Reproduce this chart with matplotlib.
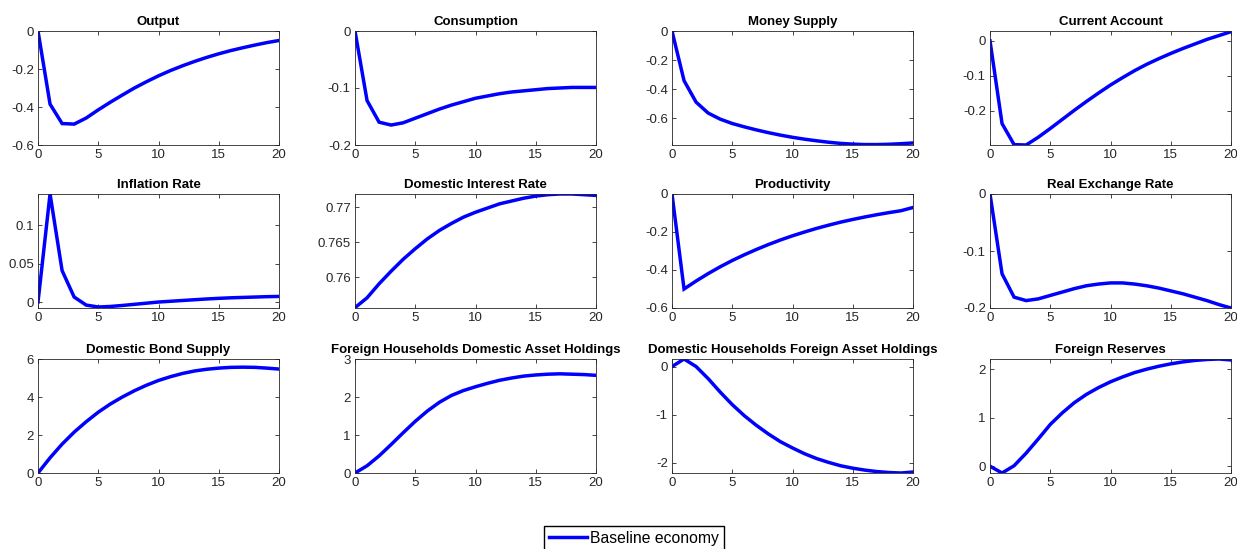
import numpy as np
import matplotlib
matplotlib.use("Agg")
import matplotlib.pyplot as plt

plt.rcParams['font.family'] = ['Liberation Sans', 'DejaVu Sans']
plt.rcParams['axes.unicode_minus'] = False

# horizon (quarters)
periods = list(range(21))

titles = [
    "Output", "Consumption", "Money Supply", "Current Account",
    "Inflation Rate", "Domestic Interest Rate", "Productivity", "Real Exchange Rate",
    "Domestic Bond Supply", "Foreign Households Domestic Asset Holdings",
    "Domestic Households Foreign Asset Holdings", "Foreign Reserves",
]

output = [0, -0.385, -0.487, -0.49, -0.458, -0.415, -0.375, -0.337, -0.300, -0.267, -0.236,
          -0.208, -0.183, -0.160, -0.139, -0.120, -0.103, -0.088, -0.074, -0.061, -0.050]
consumption = [0, -0.122, -0.160, -0.165, -0.161, -0.153, -0.145, -0.137, -0.130, -0.124, -0.118,
               -0.114, -0.110, -0.107, -0.105, -0.103, -0.101, -0.100, -0.099, -0.099, -0.099]
money_supply = [0, -0.342, -0.49, -0.565, -0.607, -0.637, -0.66, -0.681, -0.70, -0.717, -0.732,
                -0.745, -0.756, -0.766, -0.774, -0.779, -0.782, -0.782, -0.780, -0.776, -0.771]
current_account = [0, -0.236, -0.296, -0.297, -0.275, -0.250, -0.224, -0.198, -0.173, -0.149, -0.126,
                   -0.105, -0.085, -0.067, -0.051, -0.036, -0.022, -0.009, 0.004, 0.015, 0.026]
inflation = [0, 0.141, 0.041, 0.0065, -0.004, -0.0065, -0.0058, -0.0045, -0.003, -0.0015, 0.0,
             0.001, 0.002, 0.003, 0.004, 0.0048, 0.0055, 0.006, 0.0065, 0.007, 0.0073]
interest_rate = [0.7557, 0.7571, 0.7591, 0.7609, 0.7626, 0.7641, 0.7655, 0.7667, 0.7677, 0.7686, 0.7693,
                 0.7699, 0.7705, 0.7709, 0.7713, 0.7716, 0.7718, 0.7719, 0.7719, 0.7718, 0.7717]
productivity = [0, -0.50, -0.458, -0.419, -0.383, -0.350, -0.320, -0.292, -0.266, -0.242, -0.220,
                -0.200, -0.181, -0.164, -0.148, -0.134, -0.121, -0.109, -0.098, -0.088, -0.071]
real_exchange = [0, -0.140, -0.181, -0.187, -0.184, -0.178, -0.172, -0.166, -0.161, -0.158, -0.156,
                 -0.156, -0.158, -0.161, -0.165, -0.170, -0.175, -0.181, -0.187, -0.194, -0.200]
bond_supply = [0, 0.8, 1.52, 2.15, 2.7, 3.2, 3.63, 4.0, 4.33, 4.62, 4.87,
               5.07, 5.24, 5.37, 5.46, 5.52, 5.56, 5.57, 5.56, 5.52, 5.47]
foreign_dom_assets = [0, 0.19, 0.45, 0.75, 1.06, 1.36, 1.63, 1.86, 2.04, 2.17, 2.27,
                      2.36, 2.44, 2.50, 2.55, 2.58, 2.60, 2.61, 2.60, 2.59, 2.57]
dom_foreign_assets = [0, 0.157, 0.0, -0.25, -0.53, -0.79, -1.02, -1.22, -1.40, -1.56, -1.69,
                      -1.81, -1.91, -1.99, -2.06, -2.11, -2.15, -2.18, -2.20, -2.21, -2.19]
reserves = [0, -0.14, 0.01, 0.27, 0.56, 0.86, 1.10, 1.31, 1.48, 1.62, 1.74,
            1.84, 1.93, 2.00, 2.06, 2.11, 2.15, 2.18, 2.20, 2.21, 2.19]

series = [output, consumption, money_supply, current_account,
          inflation, interest_rate, productivity, real_exchange,
          bond_supply, foreign_dom_assets, dom_foreign_assets, reserves]

ylims = [(-0.6, 0), (-0.2, 0), (-0.785, 0), (-0.297, 0.028),
         (-0.0078, 0.141), (0.75565, 0.7719), (-0.6, 0), (-0.2, 0),
         (0, 6), (0, 3), (-2.21, 0.157), (-0.14, 2.21)]
yticks = [[-0.6, -0.4, -0.2, 0], [-0.2, -0.1, 0], [-0.6, -0.4, -0.2, 0], [-0.2, -0.1, 0],
          [0, 0.05, 0.1], [0.76, 0.765, 0.77], [-0.6, -0.4, -0.2, 0], [-0.2, -0.1, 0],
          [0, 2, 4, 6], [0, 1, 2, 3], [-2, -1, 0], [0, 1, 2]]
yticklabels = [["-0.6", "-0.4", "-0.2", "0"], ["-0.2", "-0.1", "0"], ["-0.6", "-0.4", "-0.2", "0"],
               ["-0.2", "-0.1", "0"], ["0", "0.05", "0.1"], ["0.76", "0.765", "0.77"],
               ["-0.6", "-0.4", "-0.2", "0"], ["-0.2", "-0.1", "0"], ["0", "2", "4", "6"],
               ["0", "1", "2", "3"], ["-2", "-1", "0"], ["0", "1", "2"]]

W, H = 1237, 549
fig = plt.figure(figsize=(W / 100, H / 100), dpi=100)

col_left = [38, 355, 672, 990]
row_top = [31, 194, 359]
ax_w, ax_h = 241, 114
gray = (0.15, 0.15, 0.15)

line = None
for k, (title, vals) in enumerate(zip(titles, series)):
    r, c = divmod(k, 4)
    ax = fig.add_axes([col_left[c] / W, 1 - (row_top[r] + ax_h) / H, ax_w / W, ax_h / H])
    line, = ax.plot(periods, vals, color=(0, 0, 1), lw=2.5, solid_joinstyle='miter')
    ax.set_xlim(0, 20)
    ax.set_ylim(*ylims[k])
    ax.set_xticks([0, 5, 10, 15, 20])
    ax.set_yticks(yticks[k])
    ax.set_yticklabels(yticklabels[k])
    ax.tick_params(direction='in', top=True, right=True, length=3, width=0.6,
                   labelsize=9.5, colors=gray, pad=3)
    for s in ax.spines.values():
        s.set_color(gray)
        s.set_linewidth(0.6)
    ax.set_title(title, fontsize=9.5, fontweight='bold', pad=4.5)

fig.legend([line], ["Baseline economy"], loc='upper center', bbox_to_anchor=(0.5125, 0.042),
           fontsize=11.3, frameon=True, fancybox=False, edgecolor='black', framealpha=1,
           handlelength=2.4, borderpad=0.3, handletextpad=0.2, borderaxespad=0)

fig.savefig("out.png", dpi=100)
